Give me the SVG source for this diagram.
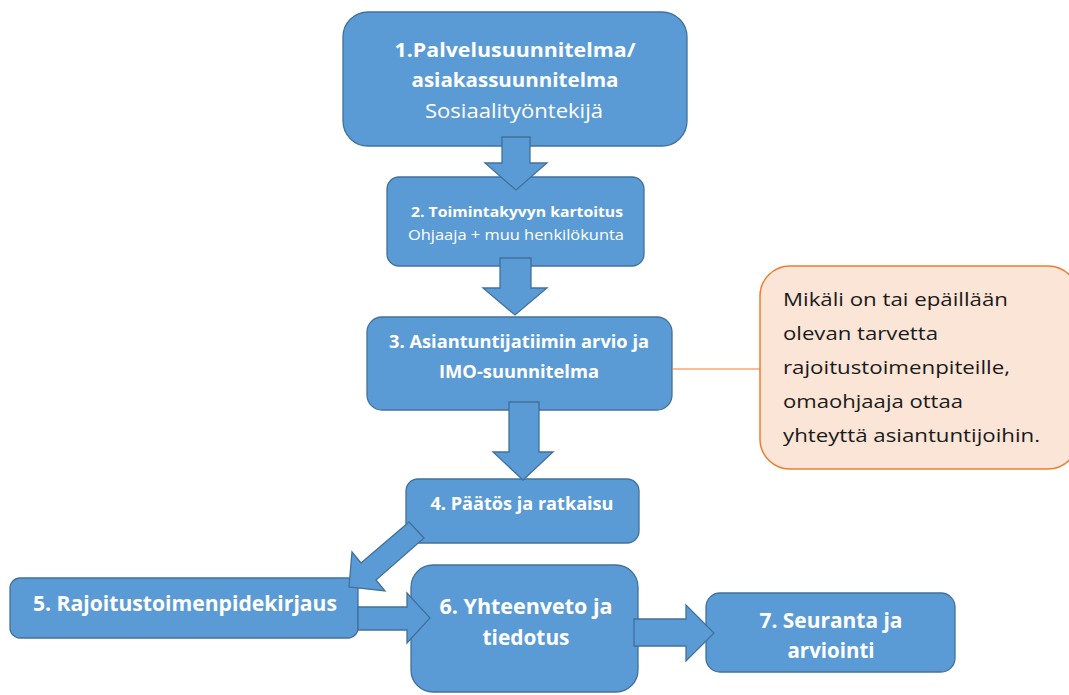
<svg xmlns="http://www.w3.org/2000/svg" width="1069" height="695" viewBox="0 0 1069 695">
<style>
.box{fill:#5b9bd5;stroke:#41719c;stroke-width:1.3}
.arr{fill:#5b9bd5;stroke:#41719c;stroke-width:1.3;stroke-linejoin:miter}
.note{fill:#fbe5d6;stroke:#ed7d31;stroke-width:1.5}
.t{font-family:"Open Sans","Noto Sans","Liberation Sans",sans-serif;fill:#ffffff;text-anchor:middle}
.b{font-weight:bold}
.n{font-family:"Open Sans","Noto Sans","Liberation Sans",sans-serif;fill:#1a1a1a;font-size:18.5px}
</style>
<rect width="1069" height="695" fill="#ffffff"/>
<g id="node1">
<rect class="box" x="343" y="12" width="344" height="134" rx="25"/>
<text class="t b" x="515" y="57" font-size="20" textLength="241" lengthAdjust="spacingAndGlyphs">1.Palvelusuunnitelma/</text>
<text class="t b" x="515" y="87" font-size="20" textLength="207" lengthAdjust="spacingAndGlyphs">asiakassuunnitelma</text>
<text class="t" x="514" y="118" font-size="20" textLength="178" lengthAdjust="spacingAndGlyphs">Sosiaalityöntekijä</text>
</g>
<g id="node2">
<rect class="box" x="387" y="177" width="257" height="89" rx="12"/>
<text class="t b" x="517" y="217" font-size="14" textLength="212" lengthAdjust="spacingAndGlyphs">2. Toimintakyvyn kartoitus</text>
<text class="t" x="516" y="240" font-size="14" textLength="216" lengthAdjust="spacingAndGlyphs">Ohjaaja + muu henkilökunta</text>
</g>
<g id="node3">
<rect class="box" x="367" y="317" width="305" height="93" rx="15"/>
<text class="t b" x="519" y="348" font-size="18" textLength="260" lengthAdjust="spacingAndGlyphs">3. Asiantuntijatiimin arvio ja</text>
<text class="t b" x="519" y="378" font-size="18" textLength="160" lengthAdjust="spacingAndGlyphs">IMO-suunnitelma</text>
</g>
<g id="node4">
<rect class="box" x="406" y="479" width="233" height="64" rx="12"/>
<text class="t b" x="522" y="510" font-size="18" textLength="183" lengthAdjust="spacingAndGlyphs">4. Päätös ja ratkaisu</text>
</g>
<g id="node5">
<rect class="box" x="10" y="578" width="348" height="60" rx="10"/>
<text class="t b" x="185" y="611" font-size="21" textLength="304" lengthAdjust="spacingAndGlyphs">5. Rajoitustoimenpidekirjaus</text>
</g>
<g id="node6">
<rect class="box" x="411" y="565" width="227" height="127" rx="22"/>
<text class="t b" x="526" y="614" font-size="21" textLength="173" lengthAdjust="spacingAndGlyphs">6. Yhteenveto ja</text>
<text class="t b" x="526" y="645" font-size="21" textLength="87" lengthAdjust="spacingAndGlyphs">tiedotus</text>
</g>
<g id="node7">
<rect class="box" x="706" y="593" width="249" height="79" rx="14"/>
<text class="t b" x="831" y="628" font-size="21" textLength="143" lengthAdjust="spacingAndGlyphs">7. Seuranta ja</text>
<text class="t b" x="831" y="658" font-size="21" textLength="87" lengthAdjust="spacingAndGlyphs">arviointi</text>
</g>
<g id="note">
<rect class="note" x="760" y="266" width="318" height="203" rx="30"/>
<text class="n" x="783" y="306" textLength="225" lengthAdjust="spacingAndGlyphs">Mikäli on tai epäillään</text>
<text class="n" x="783" y="340" textLength="155" lengthAdjust="spacingAndGlyphs">olevan tarvetta</text>
<text class="n" x="783" y="374" textLength="227" lengthAdjust="spacingAndGlyphs">rajoitustoimenpiteille,</text>
<text class="n" x="783" y="408" textLength="180" lengthAdjust="spacingAndGlyphs">omaohjaaja ottaa</text>
<text class="n" x="783" y="442" textLength="257" lengthAdjust="spacingAndGlyphs">yhteyttä asiantuntijoihin.</text>
</g>
<g id="connectors">
<polygon class="arr" points="502,137 530,137 530,163 547,163 516,190 485,163 502,163"/>
<polygon class="arr" points="500,258 531,258 531,288 547,288 515,315 483,288 500,288"/>
<polygon class="arr" points="509,402 539,402 539,452 553,452 523,480 493,452 509,452"/>
<polygon class="arr" points="409,522 361,563 352,552 349,587 385,591 376,580 424,538"/>
<polygon class="arr" points="358,607 407,607 407,593 430,618 407,643 407,630 358,630"/>
<polygon class="arr" points="634,619 686,619 686,605 714,633 686,661 686,646 634,646"/>
<line x1="672" y1="369" x2="760" y2="369" stroke="#ed7d31" stroke-width="1"/>
</g>
</svg>
